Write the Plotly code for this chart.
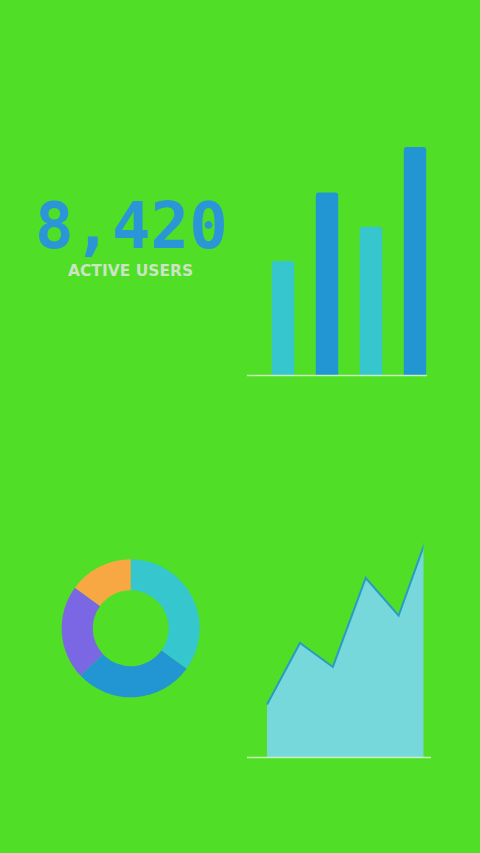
import plotly.graph_objects as go

# ---- data ----
bar_categories = ["Q1", "Q2", "Q3", "Q4"]
bar_values = [50, 80, 65, 100]
bar_colors = ["#35c7cd", "#2196d3", "#35c7cd", "#2196d3"]

donut_labels = ["A", "B", "C", "D"]
donut_values = [35, 28, 22, 15]
donut_colors = ["#35c7cd", "#2196d3", "#7b66e3", "#f7a843"]

area_x = [0, 1, 2, 3, 4, 5]
area_y = [23, 50, 39.5, 78.5, 62, 102]

kpi_value = "8,420"
kpi_label = "ACTIVE USERS"

W, H = 480, 853
BG = "#50de27"

def px(x):
    return x / W

def py(y):
    return (H - y) / H

fig = go.Figure()

fig.add_trace(go.Bar(
    x=list(range(len(bar_categories))), y=bar_values,
    marker=dict(color=bar_colors, line=dict(width=0)),
    xaxis="x", yaxis="y", showlegend=False, hoverinfo="skip",
    text=bar_categories, textposition="none",
))

fig.add_trace(go.Pie(
    labels=donut_labels, values=donut_values, hole=0.55,
    marker=dict(colors=donut_colors, line=dict(width=0)),
    sort=False, direction="clockwise", rotation=0,
    textinfo="none", showlegend=False, hoverinfo="skip",
    domain=dict(x=[px(61.7), px(199.7)], y=[py(697.3), py(559.3)]),
))

fig.add_trace(go.Scatter(
    x=area_x, y=area_y, mode="lines",
    line=dict(color="#2a9cc4", width=2),
    fill="tozeroy", fillcolor="#77d8dc",
    xaxis="x2", yaxis="y2", showlegend=False, hoverinfo="skip",
))

axis_off = dict(showgrid=False, zeroline=False, showticklabels=False,
                showline=False, ticks="", fixedrange=True)

fig.update_layout(
    width=W, height=H,
    margin=dict(l=0, r=0, t=0, b=0),
    paper_bgcolor=BG, plot_bgcolor="rgba(0,0,0,0)",
    bargap=0.49, barcornerradius=3,
    xaxis=dict(domain=[px(247), px(427)], range=[-0.818, 3.273], anchor="y", **axis_off),
    yaxis=dict(domain=[py(375), py(147)], range=[0, 100], anchor="x", **axis_off),
    xaxis2=dict(domain=[px(247), px(423.5)], range=[-0.61, 4.756], anchor="y2", **axis_off),
    yaxis2=dict(domain=[py(757), py(529)], range=[0, 100], anchor="x2", **axis_off),
    shapes=[
        dict(type="line", xref="paper", yref="paper",
             x0=px(247), x1=px(427), y0=py(375.5), y1=py(375.5),
             line=dict(color="rgba(255,255,255,0.65)", width=1.5), layer="above"),
        dict(type="line", xref="paper", yref="paper",
             x0=px(247), x1=px(431), y0=py(757.5), y1=py(757.5),
             line=dict(color="rgba(255,255,255,0.65)", width=1.5), layer="above"),
    ],
    annotations=[
        dict(text=kpi_value, x=px(131), y=py(226), xref="paper", yref="paper",
             showarrow=False, xanchor="center", yanchor="middle",
             font=dict(family="DejaVu Sans Mono", size=64, color="#2a96d6", weight="bold")),
        dict(text=kpi_label, x=px(130.5), y=py(270.5), xref="paper", yref="paper",
             showarrow=False, xanchor="center", yanchor="middle",
             font=dict(family="DejaVu Sans", size=15.5, color="#cbe4c3", weight="bold")),
    ],
)

fig.write_html(
    "out.html",
    config={"displayModeBar": False},
    post_script="document.body.style.margin='0';document.body.style.overflow='hidden';",
)
